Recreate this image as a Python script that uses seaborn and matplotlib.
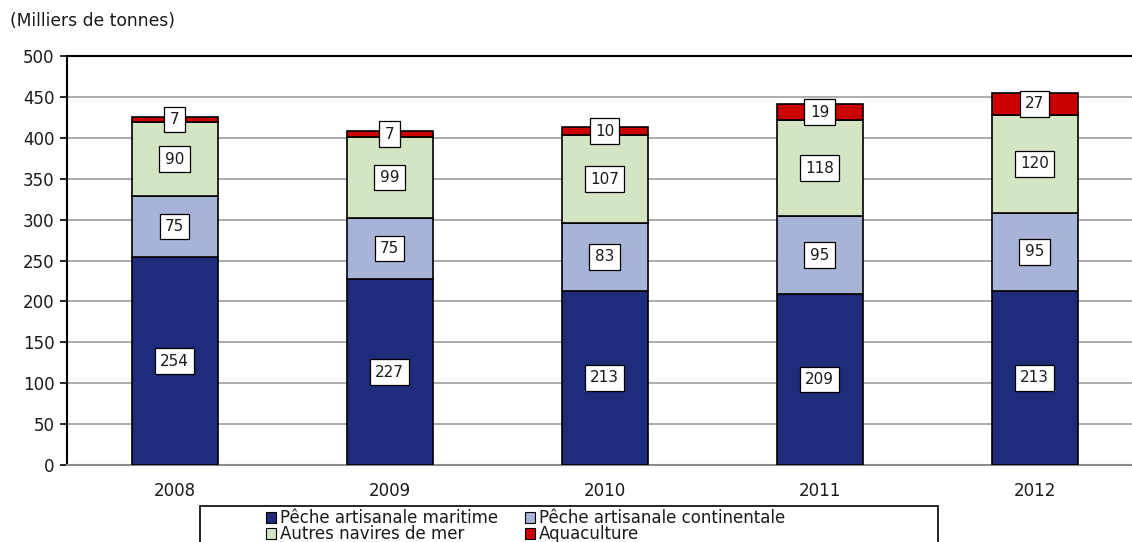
import matplotlib
matplotlib.use("Agg")
import matplotlib.pyplot as plt
from matplotlib.patches import Patch, Rectangle
import seaborn as sns
import numpy as np

years = ["2008", "2009", "2010", "2011", "2012"]
series_names = [
    "Pêche artisanale maritime",
    "Pêche artisanale continentale",
    "Autres navires de mer",
    "Aquaculture",
]
peche_maritime = [254, 227, 213, 209, 213]
peche_continentale = [75, 75, 83, 95, 95]
autres_navires = [90, 99, 107, 118, 120]
aquaculture = [7, 7, 10, 19, 27]
y_ticks = [0, 50, 100, 150, 200, 250, 300, 350, 400, 450, 500]

colors = ["#1F2B7B", "#A8B3D8", "#D4E5C4", "#CC0000"]

sns.set_theme(style="white")
plt.rcParams["font.family"] = ["DejaVu Sans"]

W, H = 1132, 542
fig = plt.figure(figsize=(W / 100, H / 100), dpi=100)
ax = fig.add_axes([67 / W, 1 - 465 / H, (1142 - 67) / W, (465 - 56) / H])

series = [peche_maritime, peche_continentale, autres_navires, aquaculture]
bottom = np.zeros(len(years))
for name, vals, col in zip(series_names, series, colors):
    sns.barplot(x=years, y=vals, bottom=bottom, color=col, width=0.4,
                edgecolor="black", linewidth=1.2, saturation=1, ax=ax, zorder=3)
    for i, v in enumerate(vals):
        ax.text(i, bottom[i] + v / 2, str(v), ha="center", va="center",
                fontsize=11, color="#1a1a1a", zorder=5,
                bbox=dict(boxstyle="square,pad=0.35", fc="white", ec="black", lw=0.9))
    bottom = bottom + np.array(vals)

ax.set_xlim(-0.5, 4.5)
ax.set_ylim(0, 500)
ax.set_yticks(y_ticks)
ax.set_yticklabels([str(t) for t in y_ticks], fontsize=12, color="#1a1a1a")
ax.set_xticks(range(len(years)))
ax.set_xticklabels(years, fontsize=12, color="#1a1a1a")
ax.set_xlabel("")
ax.set_ylabel("")
ax.set_xticks(np.arange(-0.5, 5.0, 1.0), minor=True)
ax.tick_params(axis="x", which="major", length=0, pad=12)
ax.tick_params(axis="x", which="minor", length=5, width=1.2, color="#8C8C8C", direction="out")
ax.tick_params(axis="y", which="major", length=5, width=1.2, color="black", direction="out",
               left=True, pad=4)

ax.yaxis.grid(True, color="#A6A6A6", linewidth=1.3, zorder=0)
ax.xaxis.grid(False)
ax.set_axisbelow(True)

for s in ["left", "top"]:
    ax.spines[s].set_color("black")
    ax.spines[s].set_linewidth(1.5)
ax.spines["bottom"].set_color("#8C8C8C")
ax.spines["bottom"].set_linewidth(1.5)
ax.spines["right"].set_visible(False)

fig.text(10 / W, 1 - 21 / H, "(Milliers de tonnes)", fontsize=12.3, va="center", ha="left",
         color="#1a1a1a")

# legend frame and entries
fig.patches.append(Rectangle((200 / W, 1 - 560 / H), (938 - 200) / W, (560 - 506) / H,
                             transform=fig.transFigure, fill=False, ec="black", lw=1.2))
order = [0, 2, 1, 3]
handles = [Patch(fc=colors[k], ec="black", lw=0.8) for k in order]
labels = [series_names[k] for k in order]
fig.legend(handles, labels, ncol=2, loc="upper left",
           bbox_to_anchor=(258 / W, 1 - 501 / H), frameon=False, fontsize=12,
           handlelength=0.58, handleheight=0.58, handletextpad=0.22,
           columnspacing=1.65, labelspacing=-0.12, borderpad=0.0,
           labelcolor="#1a1a1a")

fig.savefig("out.png", dpi=100)
